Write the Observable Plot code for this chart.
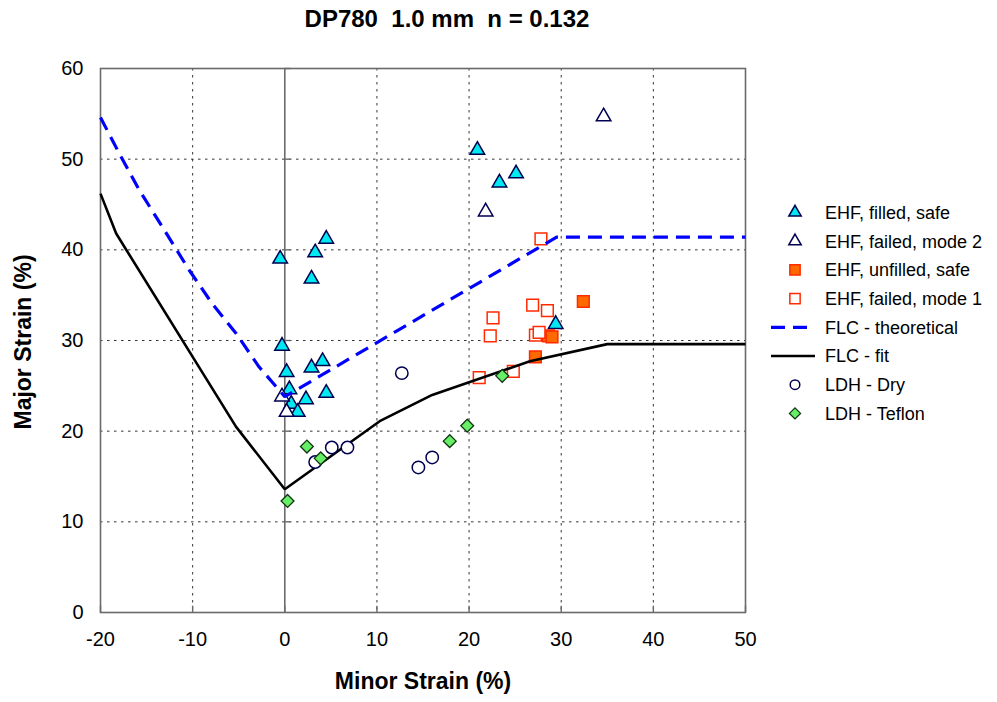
<!DOCTYPE html>
<html>
<head>
<meta charset="utf-8">
<script src="https://cdn.jsdelivr.net/npm/d3@7"></script>
<script src="https://cdn.jsdelivr.net/npm/@observablehq/plot@0.6"></script>
<style>
  html, body { margin: 0; padding: 0; background: #fff; }
  #chart { width: 997px; height: 702px; }
</style>
</head>
<body>
<div id="chart"></div>
<script>
// ---------- data ----------
const xTicks = [-20, -10, 0, 10, 20, 30, 40, 50];
const yTicks = [0, 10, 20, 30, 40, 50, 60];

const ehfFilledSafeX = [-0.5, 3.3, 4.5, 2.9, -0.3, 0.2, 2.9, 4.1, 0.5, 4.5, 2.3, 0.7, 1.4, 20.9, 23.3, 25.1, 29.4];
const ehfFilledSafeY = [39.0, 39.7, 41.2, 36.8, 29.4, 26.5, 27.0, 27.7, 24.6, 24.2, 23.5, 23.0, 22.1, 51.0, 47.4, 48.4, 31.8];

const ehfFailedMode2X = [-0.3, 0.2, 21.8, 34.6];
const ehfFailedMode2Y = [23.8, 22.1, 44.2, 54.7];

const ehfUnfilledSafeX = [32.4, 27.2, 28.6, 29.0];
const ehfUnfilledSafeY = [34.3, 28.2, 30.5, 30.4];

const ehfFailedMode1X = [27.8, 26.9, 28.5, 27.2, 27.6, 22.6, 22.3, 21.1, 24.8];
const ehfFailedMode1Y = [41.2, 33.9, 33.3, 30.6, 30.9, 32.5, 30.5, 25.9, 26.6];

const flcTheoX = [-20, -18, -15.8, -12.9, -10.4, -7.9, -5.3, -2.8, 0, 29.5, 50];
const flcTheoY = [54.6, 50.7, 46.6, 41.9, 37.8, 34.1, 30.8, 27.1, 23.8, 41.4, 41.4];

const flcFitX = [-20, -18.3, -5.3, 0, 10.3, 16, 20, 26.6, 35, 50];
const flcFitY = [46.2, 41.8, 20.5, 13.6, 21.1, 24.0, 25.4, 27.7, 29.6, 29.6];

const ldhDryX = [12.7, 14.5, 16.0, 3.3, 5.1, 6.8];
const ldhDryY = [26.4, 16.0, 17.1, 16.6, 18.2, 18.2];

const ldhTeflonX = [0.3, 2.4, 3.9, 17.9, 19.8, 23.6];
const ldhTeflonY = [12.3, 18.3, 17.0, 18.9, 20.6, 26.1];

const legendLabels = [
  "EHF, filled, safe",
  "EHF, failed, mode 2",
  "EHF, unfilled, safe",
  "EHF, failed, mode 1",
  "FLC - theoretical",
  "FLC - fit",
  "LDH - Dry",
  "LDH - Teflon"
];

const titleText = "DP780  1.0 mm  n = 0.132";
const xLabel = "Minor Strain (%)";
const yLabel = "Major Strain (%)";

// ---------- helpers ----------
const pts = (xs, ys) => xs.map((x, i) => ({x, y: ys[i]}));

const FONT = "'Liberation Sans', Arial, Helvetica, sans-serif";

const styles = [
  {kind: "dot", symbol: "triangle", r: 5.4, fill: "#00e8f0", stroke: "#000050", strokeWidth: 1.5},
  {kind: "dot", symbol: "triangle", r: 5.4, fill: "#ffffff", stroke: "#000050", strokeWidth: 1.5},
  {kind: "dot", symbol: "square", r: 6.6, fill: "#ff6a00", stroke: "#ff2a00", strokeWidth: 1.5},
  {kind: "dot", symbol: "square", r: 6.6, fill: "#ffffff", stroke: "#ff2a00", strokeWidth: 1.5},
  {kind: "line", stroke: "#0000ff", strokeWidth: 3.2, dash: "14,8"},
  {kind: "line", stroke: "#000000", strokeWidth: 2.6, dash: null},
  {kind: "dot", symbol: "circle", r: 6.2, fill: "#ffffff", stroke: "#000050", strokeWidth: 1.5},
  {kind: "dot", symbol: "diamond2", r: 5.8, fill: "#66ee66", stroke: "#113311", strokeWidth: 1.3}
];

const series = [
  pts(ehfFilledSafeX, ehfFilledSafeY),
  pts(ehfFailedMode2X, ehfFailedMode2Y),
  pts(ehfUnfilledSafeX, ehfUnfilledSafeY),
  pts(ehfFailedMode1X, ehfFailedMode1Y),
  pts(flcTheoX, flcTheoY),
  pts(flcFitX, flcFitY),
  pts(ldhDryX, ldhDryY),
  pts(ldhTeflonX, ldhTeflonY)
];

const seriesMarks = series.map((data, i) => {
  const s = styles[i];
  if (s.kind === "line") {
    return Plot.line(data, {x: "x", y: "y", stroke: s.stroke, strokeWidth: s.strokeWidth,
      strokeDasharray: s.dash || undefined, strokeLinejoin: "miter", strokeLinecap: "butt"});
  }
  return Plot.dot(data, {x: "x", y: "y", symbol: () => s.symbol, r: s.r, fill: s.fill,
    stroke: s.stroke, strokeWidth: s.strokeWidth});
});

const svg = Plot.plot({
  width: 997,
  height: 702,
  marginLeft: 100,
  marginRight: 252,
  marginTop: 68,
  marginBottom: 90,
  style: {fontFamily: FONT, fontSize: "20px", color: "#000", background: "#fff", overflow: "visible"},
  x: {domain: [-20, 50]},
  y: {domain: [0, 60]},
  symbol: {type: "identity"},
  marks: [
    Plot.gridX({ticks: xTicks.filter(t => t !== -20 && t !== 0 && t !== 50), stroke: "#000", strokeOpacity: 0.8, strokeDasharray: "2.5,4.5", strokeWidth: 1}),
    Plot.gridY({ticks: yTicks.filter(t => t !== 0 && t !== 60), stroke: "#000", strokeOpacity: 0.8, strokeDasharray: "2.5,4.5", strokeWidth: 1}),
    Plot.ruleX([0], {stroke: "#6a6a6a", strokeWidth: 1.6}),
    Plot.ruleY(yTicks.filter(t => t !== 0), {x1: 0, x2: 0.65, stroke: "#6a6a6a", strokeWidth: 1.4}),
    Plot.ruleX(xTicks, {y1: 0, y2: 0.7, stroke: "#6a6a6a", strokeWidth: 1.4}),
    Plot.frame({stroke: "#6a6a6a", strokeWidth: 1.6}),
    Plot.axisX({ticks: xTicks, tickSize: 0, tickPadding: 19, label: null, fontSize: 20, fill: "#000", tickFormat: d => String(d)}),
    Plot.axisY({ticks: yTicks, tickSize: 0, tickPadding: 17, label: null, fontSize: 20, fill: "#000", tickFormat: d => String(d)}),
    ...seriesMarks
  ]
});

document.getElementById("chart").appendChild(svg);

// ---------- titles and legend ----------
const root = d3.select(svg);

root.append("text")
  .attr("x", 447).attr("y", 27)
  .attr("text-anchor", "middle")
  .attr("font-family", FONT).attr("font-weight", "bold").attr("font-size", 24)
  .attr("fill", "#000")
  .attr("xml:space", "preserve")
  .style("white-space", "pre")
  .text(titleText);

root.append("text")
  .attr("x", 423).attr("y", 689)
  .attr("text-anchor", "middle")
  .attr("font-family", FONT).attr("font-weight", "bold").attr("font-size", 23)
  .attr("fill", "#000")
  .text(xLabel);

root.append("text")
  .attr("transform", "translate(31,342) rotate(-90)")
  .attr("text-anchor", "middle")
  .attr("font-family", FONT).attr("font-weight", "bold").attr("font-size", 23)
  .attr("fill", "#000")
  .text(yLabel);

const lg = root.append("g").attr("class", "legend");
const symMap = {triangle: d3.symbolTriangle, square: d3.symbolSquare, circle: d3.symbolCircle, diamond2: d3.symbolDiamond2};
legendLabels.forEach((label, i) => {
  const s = styles[i];
  const cy = 212.5 + i * 28.7;
  const row = lg.append("g");
  if (s.kind === "line") {
    row.append("line")
      .attr("x1", 771).attr("x2", 815).attr("y1", cy).attr("y2", cy)
      .attr("stroke", s.stroke).attr("stroke-width", s.strokeWidth)
      .attr("stroke-dasharray", s.dash || null);
  } else {
    const size = s.symbol === "circle" ? Math.PI * (s.r - 1.4) ** 2 : Math.PI * (s.r - 0.8) ** 2;
    row.append("path")
      .attr("transform", `translate(795,${cy})`)
      .attr("d", d3.symbol(symMap[s.symbol], size)())
      .attr("fill", s.fill).attr("stroke", s.stroke).attr("stroke-width", s.strokeWidth);
  }
  row.append("text")
    .attr("x", 825).attr("y", cy).attr("dy", "0.36em")
    .attr("text-anchor", "start")
    .attr("font-family", FONT).attr("font-size", 18).attr("fill", "#000")
    .text(label);
});
</script>
</body>
</html>
